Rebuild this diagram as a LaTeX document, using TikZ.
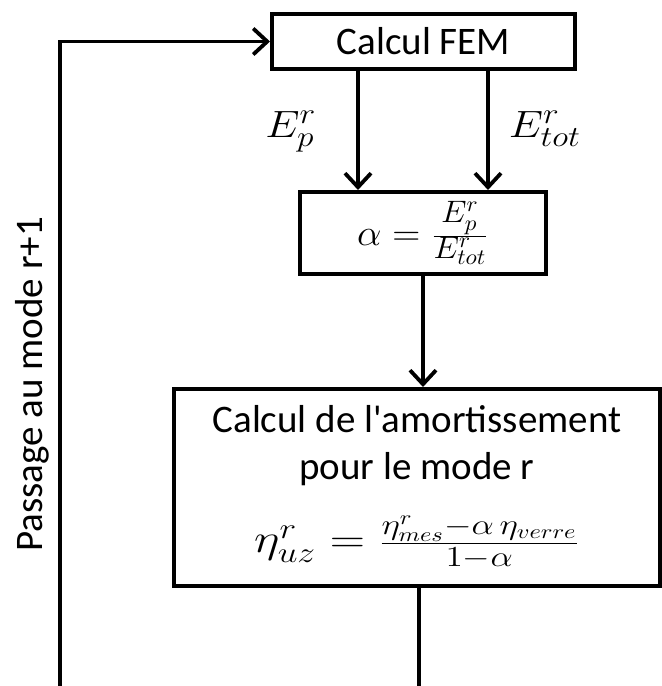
\documentclass[tikz,border=0pt]{standalone}
\usepackage{fix-cm}
\usepackage{fontspec}
\setmainfont{Carlito}
\newfontfamily\qfont{Carlito}
\usetikzlibrary{arrows.meta}
\DeclareMathSizes{19}{19}{14.5}{11}
\DeclareMathSizes{18.5}{18.5}{15.5}{11}
\DeclareMathSizes{20}{20}{14.5}{10}
\begin{document}
\begin{tikzpicture}[x=0.5pt,y=-0.5pt,
  box/.style={draw, line width=2pt, rectangle, inner sep=0pt, fill=white},
  conn/.style={line width=1.9pt},
  arr/.style={conn, -{Straight Barb[length=7pt,width=13pt,line width=1.9pt]}},
  txt/.style={font=\fontsize{19.5}{23.5}\selectfont},
  lbl/.style={font=\fontsize{19}{22}\selectfont, inner sep=0pt, anchor=base}]
\useasboundingbox (0,0) rectangle (662,686);
\node[box, txt, minimum width=151.5pt, minimum height=27.5pt, text depth=0.1em] (fem) at (423.5,41.5) {Calcul FEM};
\node[box, font=\fontsize{18.5}{22}\selectfont, minimum width=123pt, minimum height=41pt] (alpha) at (423,233)
  {\scalebox{1.05}[1]{$\alpha = \frac{E_p^r}{E_{tot}^r}$}};
\node[box, txt, align=center, minimum width=243pt, minimum height=98.5pt] (damp) at (417,487.5)
  {Calcul de l{\qfont '}amortissement\\pour le mode r\\[13pt]{\fontsize{20}{22}\selectfont\scalebox{1.22}[1]{$\eta^r_{uz} = \frac{\eta^r_{mes}-\alpha\,\eta_{verre}}{1-\alpha}$}}};
\node[lbl] (ep) at (291,137) {\scalebox{1.15}[1]{$E_p^r$}};
\node[lbl] (et) at (545,137) {\scalebox{1.15}[1]{$E_{tot}^r$}};
\node[txt, rotate=90, anchor=base, inner sep=0pt] (pass) at (42,384.5) {Passage au mode r+1};
\coordinate (xl) at (358,0);
\coordinate (xr) at (488,0);
\coordinate (xm) at (423,0);
\coordinate (xb) at (419,0);
\coordinate (loopx) at (60,0);
\coordinate (bot) at (0,700);
\draw[arr] (fem.south -| xl) -- (alpha.north -| xl);
\draw[arr] (fem.south -| xr) -- (alpha.north -| xr);
\draw[arr] (alpha.south -| xm) -- (damp.north -| xm);
\draw[arr] (damp.south -| xb) -- (bot -| xb) -- (bot -| loopx) -- (fem.west -| loopx) -- (fem.west);
\end{tikzpicture}
\end{document}
